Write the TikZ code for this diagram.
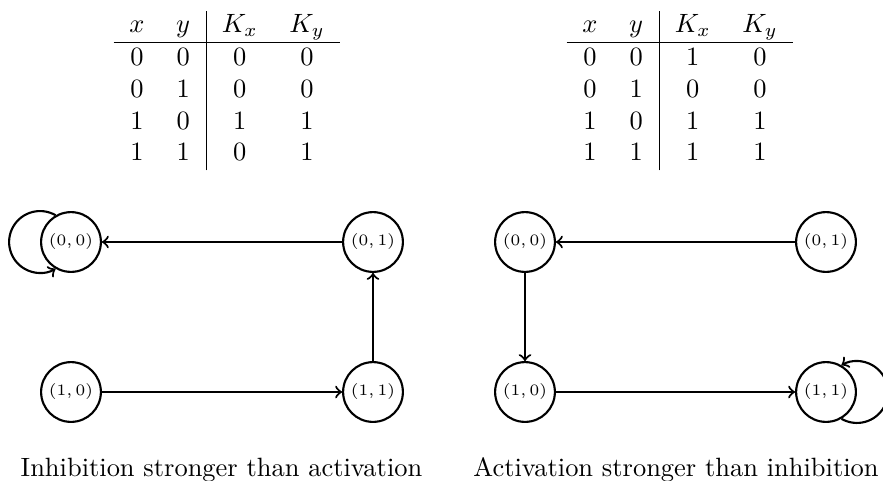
\documentclass[tikz,border=0pt]{standalone}
\begin{document}
\begin{tikzpicture}[x=0.3781pt,y=-0.3781pt,
  state/.style={circle,draw,thick,minimum size=22.6pt,inner sep=0pt,font=\fontsize{6}{7}\selectfont},
  edge/.style={->,thick},
  tbl/.style={anchor=north west,inner sep=0pt},
  captext/.style={anchor=base,inner sep=0pt}]
\useasboundingbox (0,0) rectangle (883,480);
% tables
\node[tbl] (T1) at (113,10) {\begin{tabular}{cc|cc}
$x$ & $y$ & $K_x$ & $K_y$\\\hline
0 & 0 & 0 & 0\\
0 & 1 & 0 & 0\\
1 & 0 & 1 & 1\\
1 & 1 & 0 & 1
\end{tabular}};
\node[tbl] (T2) at (566,10) {\begin{tabular}{cc|cc}
$x$ & $y$ & $K_x$ & $K_y$\\\hline
0 & 0 & 1 & 0\\
0 & 1 & 0 & 0\\
1 & 0 & 1 & 1\\
1 & 1 & 1 & 1
\end{tabular}};
% left graph
\node[state] (A00) at (71,242) {$(0,0)$};
\node[state] (A01) at (373,242) {$(0,1)$};
\node[state] (A10) at (71,392) {$(1,0)$};
\node[state] (A11) at (373,392) {$(1,1)$};
\draw[edge] (A01) -- (A00);
\draw[edge] (A11) -- (A01);
\draw[edge] (A10) -- (A11);
\draw[edge] (A00.120) arc[start angle=60, end angle=300, radius=11.7pt];
% right graph
\node[state] (B00) at (525,242) {$(0,0)$};
\node[state] (B01) at (826,242) {$(0,1)$};
\node[state] (B10) at (525,392) {$(1,0)$};
\node[state] (B11) at (826,392) {$(1,1)$};
\draw[edge] (B01) -- (B00);
\draw[edge] (B00) -- (B10);
\draw[edge] (B10) -- (B11);
\draw[edge] (B11.-60) arc[start angle=240, end angle=480, radius=11.7pt];
% captions
\node[captext] (C1) at (221.5,476) {Inhibition stronger than activation};
\node[captext] (C2) at (676,476) {Activation stronger than inhibition};
\end{tikzpicture}
\end{document}
